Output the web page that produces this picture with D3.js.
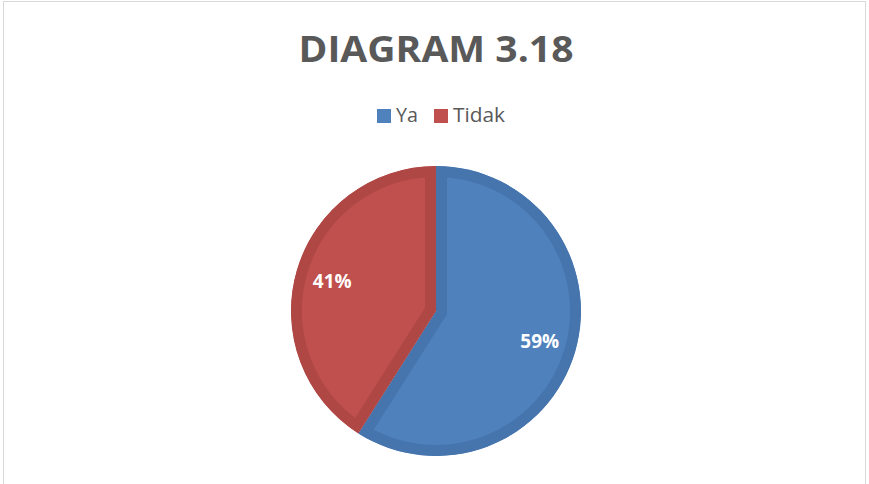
<!DOCTYPE html>
<html><head><meta charset="utf-8">
<script src="https://cdn.jsdelivr.net/npm/d3@7"></script>
<style>body{margin:0;background:#fff}svg{display:block}</style>
</head><body>
<svg id="c" width="869" height="484"></svg>
<script>
const categories = ["Ya", "Tidak"];
const values = [59, 41];
const labels = ["59%", "41%"];
const fills = ["#4F81BD", "#C0504D"];
const borders = ["#4675AE", "#AF4845"];

const svg = d3.select("#c");
svg.append("rect").attr("x", 3.5).attr("y", 1.5).attr("width", 862).attr("height", 500)
  .attr("fill", "#fff").attr("stroke", "#d9d9d9").attr("stroke-width", 1);

svg.append("text").attr("x", 436).attr("y", 62).attr("text-anchor", "middle")
  .attr("font-family", "Open Sans, sans-serif").attr("font-weight", "bold")
  .attr("font-size", 36).attr("fill", "#595959")
  .attr("textLength", 275).attr("lengthAdjust", "spacingAndGlyphs")
  .text("DIAGRAM 3.18");

// legend
const legX = [377, 434];
const legW = [22, 52];
const leg = svg.append("g");
categories.forEach((c, i) => {
  leg.append("rect").attr("x", legX[i]).attr("y", 109).attr("width", 14).attr("height", 14).attr("fill", fills[i]);
  leg.append("text").attr("x", legX[i] + 19).attr("y", 122)
    .attr("font-family", "Open Sans, sans-serif").attr("font-size", 20).attr("fill", "#595959")
    .attr("textLength", legW[i]).attr("lengthAdjust", "spacingAndGlyphs").text(c);
});

const cx = 436, cy = 311, r = 145, bw = 11;
const pie = d3.pie().sort(null).value(d => d)(values);
const arc = d3.arc().innerRadius(0).outerRadius(r);
const g = svg.append("g").attr("transform", `translate(${cx},${cy})`);
const defs = svg.append("defs");
pie.forEach((p, i) => {
  defs.append("clipPath").attr("id", "clip" + i).append("path").attr("d", arc(p));
  g.append("path").attr("d", arc(p)).attr("fill", fills[i])
    .attr("stroke", borders[i]).attr("stroke-width", bw * 2)
    .attr("stroke-linejoin", "miter")
    .attr("clip-path", `url(#clip${i})`);
});
const lab = d3.arc().innerRadius(108).outerRadius(108);
pie.forEach((p, i) => {
  const [x, y] = lab.centroid(p);
  g.append("text").attr("x", x).attr("y", y).attr("dy", "0.36em").attr("text-anchor", "middle")
    .attr("font-family", "Open Sans, sans-serif").attr("font-weight", "bold").attr("font-size", 19)
    .attr("fill", "#fff").text(labels[i]);
});
</script>
</body></html>
